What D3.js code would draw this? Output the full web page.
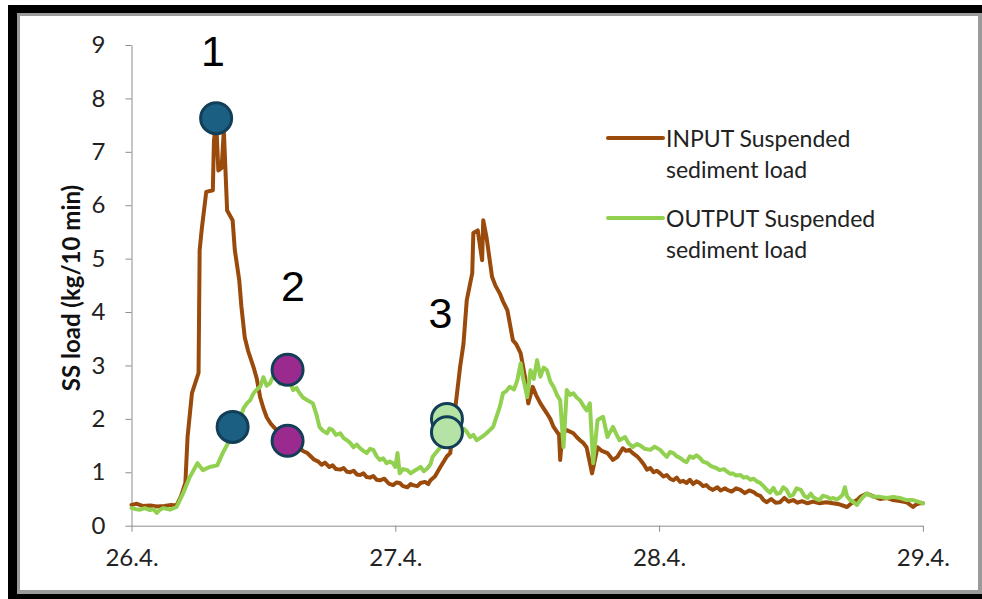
<!DOCTYPE html>
<html>
<head>
<meta charset="utf-8">
<script src="https://cdnjs.cloudflare.com/ajax/libs/d3/7.8.5/d3.min.js"></script>
<style>
  html, body { margin: 0; padding: 0; background: #fff; }
  svg { display: block; }
</style>
</head>
<body>
<svg id="chart" width="982" height="599"></svg>
<script>
// ---- DATA (time in hours from 26.4. 00:00, load in kg/10 min) ----
const dayLabels = ["26.4.", "27.4.", "28.4.", "29.4."];
const dayHours = [0, 24, 48, 72];
const yTicks = [0, 1, 2, 3, 4, 5, 6, 7, 8, 9];

const inputHours = [0.0, 0.5, 1.0, 1.7, 2.3, 3.0, 3.6, 4.1, 4.5, 4.9, 5.1, 5.5, 6.1, 6.2, 6.4, 6.8, 7.4, 7.5, 7.7, 7.9, 8.2, 8.4, 8.7, 9.2, 9.4, 9.8, 10.0, 10.3, 10.6, 11.1, 11.4, 11.7, 12.0, 12.3, 12.7, 13.2, 13.6, 14.0, 14.3, 14.7, 15.0, 15.3, 15.6, 16.0, 16.3, 16.6, 17.0, 17.3, 17.6, 18.0, 18.3, 18.6, 19.0, 19.3, 19.6, 19.9, 20.2, 20.5, 20.8, 21.1, 21.4, 21.7, 22.0, 22.3, 22.6, 23.0, 23.4, 23.8, 24.1, 24.4, 24.7, 25.1, 25.4, 25.6, 26.0, 26.3, 26.7, 27.0, 27.2, 27.6, 28.1, 28.7, 29.0, 29.4, 29.9, 30.2, 30.5, 31.0, 31.1, 31.5, 31.9, 32.0, 32.3, 32.8, 33.1, 33.5, 33.8, 34.2, 34.7, 35.0, 35.4, 35.8, 36.1, 36.5, 36.8, 37.2, 37.8, 38.1, 38.4, 38.9, 39.0, 39.2, 39.6, 40.2, 40.5, 40.8, 41.1, 41.4, 41.9, 42.4, 42.8, 43.3, 43.8, 44.2, 44.7, 45.0, 45.3, 45.6, 46.0, 46.3, 46.6, 46.9, 47.2, 47.5, 47.8, 48.1, 48.4, 48.7, 49.0, 49.3, 49.6, 49.9, 50.2, 50.5, 50.8, 51.1, 51.4, 51.7, 52.0, 52.3, 52.6, 52.9, 53.3, 53.6, 54.0, 54.2, 54.6, 55.0, 55.4, 55.8, 56.2, 56.6, 56.9, 57.2, 57.5, 57.8, 58.2, 58.6, 59.0, 59.4, 59.8, 60.2, 60.6, 61.0, 61.5, 62.0, 62.6, 63.2, 63.8, 64.4, 65.1, 65.5, 66.0, 66.3, 66.9, 67.5, 68.1, 68.7, 69.3, 69.9, 70.5, 71.1, 71.4, 71.7, 72.0];
const inputLoad = [0.39, 0.41, 0.37, 0.38, 0.36, 0.37, 0.39, 0.38, 0.55, 0.80, 1.66, 2.48, 2.86, 5.16, 5.57, 6.25, 6.28, 7.20, 7.60, 6.65, 6.70, 7.40, 5.90, 5.72, 5.16, 4.60, 4.10, 3.53, 3.28, 2.97, 2.75, 2.41, 2.20, 2.03, 1.90, 1.79, 1.70, 1.60, 1.52, 1.47, 1.52, 1.45, 1.40, 1.36, 1.30, 1.24, 1.20, 1.14, 1.18, 1.10, 1.13, 1.06, 1.05, 1.08, 1.01, 1.00, 1.03, 0.96, 0.95, 0.98, 0.91, 0.90, 0.93, 0.86, 0.85, 0.88, 0.79, 0.76, 0.81, 0.80, 0.74, 0.72, 0.78, 0.76, 0.74, 0.80, 0.82, 0.78, 0.85, 0.92, 1.10, 1.30, 1.36, 2.10, 2.98, 3.40, 4.22, 4.73, 5.48, 5.53, 4.97, 5.72, 5.40, 4.66, 4.50, 4.35, 4.20, 4.03, 3.47, 3.40, 3.23, 2.78, 2.29, 2.60, 2.45, 2.29, 2.10, 2.00, 1.85, 1.70, 1.23, 1.73, 1.79, 1.73, 1.66, 1.60, 1.55, 1.47, 0.98, 1.47, 1.40, 1.36, 1.23, 1.29, 1.45, 1.40, 1.42, 1.36, 1.30, 1.23, 1.15, 1.05, 1.08, 1.00, 1.03, 0.98, 0.92, 0.95, 0.88, 0.85, 0.90, 0.82, 0.84, 0.80, 0.86, 0.78, 0.83, 0.80, 0.74, 0.76, 0.70, 0.67, 0.72, 0.66, 0.70, 0.67, 0.64, 0.70, 0.67, 0.61, 0.66, 0.63, 0.58, 0.56, 0.48, 0.44, 0.50, 0.43, 0.44, 0.52, 0.45, 0.48, 0.43, 0.46, 0.42, 0.45, 0.42, 0.44, 0.42, 0.40, 0.35, 0.42, 0.48, 0.54, 0.60, 0.55, 0.50, 0.52, 0.48, 0.46, 0.44, 0.35, 0.40, 0.42, 0.42];

const outputHours = [0.0, 0.4, 0.8, 1.2, 1.7, 2.0, 2.3, 2.6, 2.9, 3.5, 4.1, 4.7, 5.3, 6.0, 6.5, 7.1, 7.8, 8.3, 8.8, 9.2, 9.6, 9.9, 10.2, 10.5, 10.8, 11.1, 11.4, 11.7, 12.0, 12.3, 12.6, 12.9, 13.2, 13.5, 13.8, 14.1, 14.4, 14.7, 15.0, 15.3, 15.6, 16.0, 16.5, 16.8, 17.1, 17.4, 17.8, 18.0, 18.3, 18.6, 19.0, 19.3, 19.6, 19.9, 20.2, 20.5, 20.8, 21.1, 21.4, 21.7, 22.0, 22.3, 22.6, 22.9, 23.2, 23.5, 23.8, 24.0, 24.2, 24.4, 24.7, 25.1, 25.4, 25.6, 26.0, 26.3, 26.6, 26.9, 27.2, 27.4, 28.1, 28.7, 29.3, 29.6, 29.9, 30.2, 30.5, 30.8, 31.1, 31.4, 31.7, 32.0, 32.3, 32.9, 33.5, 33.8, 34.1, 34.4, 34.8, 35.1, 35.4, 35.6, 36.0, 36.3, 36.6, 36.9, 37.2, 37.5, 37.8, 38.1, 38.4, 38.7, 39.0, 39.3, 39.6, 39.9, 40.2, 40.5, 40.8, 41.1, 41.4, 41.7, 42.0, 42.4, 42.9, 43.3, 43.8, 44.1, 44.4, 44.9, 45.2, 45.6, 46.0, 46.3, 46.7, 47.2, 47.6, 48.1, 48.4, 48.7, 49.0, 49.3, 49.6, 49.9, 50.2, 50.5, 50.8, 51.1, 51.4, 51.7, 52.0, 52.4, 52.7, 52.9, 53.2, 53.5, 53.9, 54.2, 54.5, 54.7, 55.0, 55.4, 55.7, 56.0, 56.3, 56.6, 56.9, 57.2, 57.5, 57.8, 58.1, 58.4, 58.7, 59.0, 59.3, 59.6, 59.9, 60.2, 60.5, 60.9, 61.2, 61.5, 61.8, 62.0, 62.3, 62.6, 62.9, 63.3, 63.6, 63.8, 64.2, 64.5, 64.7, 64.9, 65.1, 65.4, 65.7, 66.0, 66.3, 66.6, 66.9, 67.2, 67.5, 68.1, 68.7, 69.3, 69.9, 70.5, 71.1, 71.7, 72.0];
const outputLoad = [0.33, 0.31, 0.30, 0.33, 0.29, 0.31, 0.24, 0.30, 0.33, 0.30, 0.35, 0.61, 0.91, 1.17, 1.04, 1.10, 1.13, 1.36, 1.55, 1.85, 1.95, 2.03, 2.20, 2.29, 2.35, 2.48, 2.55, 2.60, 2.78, 2.62, 2.67, 2.80, 2.76, 2.66, 2.72, 2.85, 2.70, 2.54, 2.58, 2.48, 2.40, 2.35, 2.29, 2.10, 1.85, 1.78, 1.73, 1.82, 1.79, 1.70, 1.73, 1.64, 1.60, 1.55, 1.47, 1.52, 1.45, 1.40, 1.36, 1.44, 1.42, 1.30, 1.23, 1.26, 1.17, 1.20, 1.17, 1.10, 1.36, 0.98, 1.06, 1.04, 0.98, 1.01, 1.06, 1.10, 1.02, 1.07, 1.15, 1.29, 1.47, 1.70, 1.98, 1.86, 1.79, 1.82, 1.76, 1.66, 1.70, 1.60, 1.64, 1.68, 1.73, 1.85, 2.22, 2.48, 2.52, 2.60, 2.55, 2.72, 3.04, 2.79, 2.41, 2.91, 2.75, 3.10, 2.79, 2.96, 2.91, 2.70, 2.60, 2.45, 2.35, 1.47, 2.54, 2.45, 2.48, 2.40, 2.35, 2.25, 2.16, 2.29, 1.17, 1.98, 2.04, 1.66, 1.85, 1.72, 1.60, 1.66, 1.55, 1.47, 1.53, 1.50, 1.44, 1.42, 1.48, 1.42, 1.35, 1.29, 1.38, 1.36, 1.30, 1.27, 1.22, 1.19, 1.30, 1.27, 1.32, 1.27, 1.20, 1.17, 1.12, 1.10, 1.08, 1.04, 1.06, 1.01, 0.97, 0.98, 0.94, 0.95, 0.90, 0.91, 0.86, 0.88, 0.83, 0.80, 0.74, 0.67, 0.62, 0.71, 0.60, 0.61, 0.72, 0.67, 0.55, 0.58, 0.70, 0.67, 0.56, 0.52, 0.60, 0.54, 0.50, 0.48, 0.56, 0.54, 0.50, 0.52, 0.49, 0.54, 0.58, 0.72, 0.55, 0.48, 0.44, 0.39, 0.48, 0.55, 0.60, 0.57, 0.54, 0.54, 0.52, 0.54, 0.52, 0.48, 0.48, 0.44, 0.42];

// annotation markers
const markerHours = [7.7, 9.2, 14.2, 14.2, 28.7, 28.7];
const markerLoad = [7.63, 1.85, 2.92, 1.59, 2.00, 1.75];
const markerGroup = [1, 1, 2, 2, 3, 3];
const eventLabels = ["1", "2", "3"];
const eventHours = [7.4, 14.7, 28.1];
const eventLoad = [8.6, 4.2, 3.7];

const seriesNames = [["INPUT Suspended", "sediment load"], ["OUTPUT Suspended", "sediment load"]];

// ---- DRAW ----
const svg = d3.select("#chart");

// frame
svg.append("rect").attr("x", 8).attr("y", 5).attr("width", 1000).attr("height", 620).attr("fill", "#000");
svg.append("rect").attr("x", 17).attr("y", 13).attr("width", 965).attr("height", 581).attr("fill", "#9a9a9a");
svg.append("rect").attr("x", 20).attr("y", 16).attr("width", 958).attr("height", 574).attr("fill", "#fff");

const x = d3.scaleLinear().domain([0, 72]).range([131.5, 922.9]);
const y = d3.scaleLinear().domain([0, 9]).range([525.7, 45]);

const axisColor = "#8c8c8c";
const font = "Lato, 'Open Sans', sans-serif";

// y axis
const yAxis = svg.append("g").attr("transform", `translate(${x(0)},0)`)
  .call(d3.axisLeft(y).tickValues(yTicks).tickFormat(d3.format("d")).tickSize(6).tickSizeOuter(0).tickPadding(20));
yAxis.select(".domain").attr("stroke", axisColor);
yAxis.selectAll(".tick line").attr("stroke", axisColor);
yAxis.selectAll(".tick text").attr("fill", "#222").style("font-family", font).style("font-size", "24px");

// x axis
const xAxis = svg.append("g").attr("transform", `translate(0,${y(0)})`)
  .call(d3.axisBottom(x).tickValues(dayHours).tickFormat((d, i) => dayLabels[i]).tickSize(6).tickSizeOuter(0).tickPadding(17));
xAxis.select(".domain").attr("stroke", axisColor);
xAxis.selectAll(".tick line").attr("stroke", axisColor);
xAxis.selectAll(".tick text").attr("fill", "#222").style("font-family", font).style("font-size", "24px");

// y axis title
svg.append("text")
  .attr("transform", `translate(80,${288}) rotate(-90)`)
  .attr("text-anchor", "middle")
  .style("font-family", font).style("font-weight", "bold").style("font-size", "24px")
  .attr("fill", "#111")
  .text("SS load (kg/10 min)");

const colors = ["#9a4a0a", "#92d050"];
const line = d3.line().x(d => x(d[0])).y(d => y(d[1]));

const inputData = inputHours.map((h, i) => [h, inputLoad[i]]);
const outputData = outputHours.map((h, i) => [h, outputLoad[i]]);

[inputData, outputData].forEach((data, i) => {
  svg.append("path").datum(data)
    .attr("d", line)
    .attr("fill", "none")
    .attr("stroke", colors[i])
    .attr("stroke-width", 4)
    .attr("stroke-linejoin", "round")
    .attr("stroke-linecap", "round");
});

// markers
const markerFill = { 1: "#1b5f82", 2: "#9a2a8e", 3: "#b5e2a5" };
markerHours.forEach((h, i) => {
  svg.append("circle")
    .attr("cx", x(h)).attr("cy", y(markerLoad[i])).attr("r", 15.5)
    .attr("fill", markerFill[markerGroup[i]])
    .attr("stroke", "#123f57").attr("stroke-width", 3);
});

// event numbers
eventLabels.forEach((t, i) => {
  svg.append("text")
    .attr("x", x(eventHours[i])).attr("y", y(eventLoad[i]))
    .attr("text-anchor", "middle")
    .style("font-family", "'Liberation Sans', Arial, sans-serif").style("font-size", "43px")
    .attr("fill", "#000")
    .text(t);
});

// legend
const legendY = [138, 218];
seriesNames.forEach((lines, i) => {
  svg.append("line")
    .attr("x1", 608).attr("x2", 663).attr("y1", legendY[i]).attr("y2", legendY[i])
    .attr("stroke", colors[i]).attr("stroke-width", 4).attr("stroke-linecap", "round");
  lines.forEach((t, j) => {
    svg.append("text")
      .attr("x", 666).attr("y", legendY[i] + 9 + j * 31)
      .style("font-family", font).style("font-size", "23px")
      .attr("fill", "#222")
      .text(t);
  });
});
</script>
</body>
</html>
